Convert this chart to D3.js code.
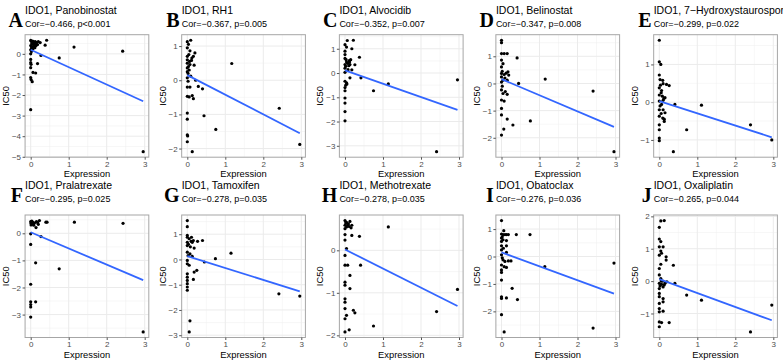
<!DOCTYPE html>
<html>
<head>
<meta charset="utf-8">
<script src="https://cdn.jsdelivr.net/npm/d3@7"></script>
<style>
  body { margin: 0; background: #fff; }
  svg { display: block; font-family: "Liberation Sans", Arial, sans-serif; }
</style>
</head>
<body>
<svg width="783" height="362"></svg>
<script>
const letters = ["A", "B", "C", "D", "E", "F", "G", "H", "I", "J"]
const drugs = ["Panobinostat", "RH1", "Alvocidib", "Belinostat", "7\u2212Hydroxystaurosporine",
               "Pralatrexate", "Tamoxifen", "Methotrexate", "Obatoclax", "Oxaliplatin"]
const cors = ["Cor=\u22120.466, p<0.001", "Cor=\u22120.367, p=0.005", "Cor=\u22120.352, p=0.007",
              "Cor=\u22120.347, p=0.008", "Cor=\u22120.299, p=0.022", "Cor=\u22120.295, p=0.025",
              "Cor=\u22120.278, p=0.035", "Cor=\u22120.278, p=0.035", "Cor=\u22120.276, p=0.036",
              "Cor=\u22120.265, p=0.044"]
const xTicks = [0, 1, 2, 3]
const yTicks = [
  [0, -1, -2, -3, -4, -5], [1, 0, -1, -2], [1, 0, -1, -2, -3], [1, 0, -1, -2], [1, 0, -1],
  [0, -1, -2, -3], [1, 0, -1, -2, -3], [0, -1, -2], [1, 0, -1, -2], [2, 1, 0, -1]
]

// [expression, IC50]
const ptsA = [[0,0.65],[0.02,0.6],[0.05,0.62],[0.08,0.58],[0.12,0.6],[0.15,0.55],[0.2,0.6],[0.25,0.55],
  [0.03,0.5],[0.07,0.48],[0.1,0.45],[0.13,0.5],[0.18,0.45],[0,0.4],[0.04,0.35],[0.09,0.38],[0.14,0.4],
  [0.02,0.28],[0.06,0.25],[0,0.2],[0.11,0.3],[0.42,0.66],[0.38,0.42],[1.14,0.33],[2.42,0.13],[2.96,-4.75],
  [0.75,-0.2],[0.27,-0.08],[0.18,-0.47],[0,-0.27],[0,-0.43],[0.01,-0.51],[0,-0.67],[0,-1.15],[0.01,-1.25],
  [0.04,-1.35],[0,-2.71],[0.06,-0.9],[0.13,-0.93],[0,0.0],[0.02,0.12]]
const ptsB = [[0.09,1.17],[0,1.13],[0.03,1.05],[0,0.95],[0.07,0.86],[0.2,0.8],[0.16,0.7],[0,0.7],[0.04,0.75],
  [0,0.6],[0.11,0.58],[0,0.5],[0.07,0.46],[0.18,0.44],[0.03,0.4],[0,0.36],[0.05,0.3],[0,0.25],[0.09,0.12],
  [0,0.07],[0.02,-0.03],[0.22,0],[0,-0.2],[0.07,-0.2],[0.29,-0.18],[0.4,-0.25],[0,-0.47],[0.05,-0.49],
  [0.13,-0.45],[0.16,-0.54],[0,-0.96],[0,-1.14],[0.44,-1.04],[0.75,-1.44],[1.17,0.49],[2.42,-0.82],
  [2.96,-1.88],[0,-1.6],[0.01,-1.63],[0,-1.8],[0.13,-2.09],[0.02,0.2],[0.12,0.65],[0.06,0.55]]
const ptsC = [[0.06,1.34],[0.22,1.35],[0,1.17],[0.04,1.07],[0.18,1.0],[0,0.9],[0,0.76],[0,0.6],[0.04,0.45],
  [0.11,0.51],[0,0.35],[0.13,0.35],[0.38,0.65],[0.26,0.34],[0,0.2],[0.08,0.14],[0.18,0.13],[0,0.03],
  [0.13,-0.2],[0.42,-0.2],[0,-0.34],[0.04,-0.41],[0,-0.6],[0,-0.73],[0,-1.03],[0,-1.24],[0,-1.59],
  [0,-1.97],[0.75,-0.73],[1.14,-0.45],[2.41,-3.24],[2.96,-0.28],[0.03,0.55],[0.07,0.4],[0.12,0.45],
  [0.15,0.55],[0.02,0.28],[0.05,-0.45],[0.1,0.3],[0.02,-0.5]]
const ptsD = [[0,1.59],[0,1.5],[0,1.1],[0.07,1.1],[0.15,1.1],[0.41,0.94],[0,0.86],[0.04,0.73],[0,0.61],
  [0,0.37],[0.07,0.33],[0.17,0.43],[0.19,0.31],[0,0.24],[0.04,0.12],[0.15,0.12],[0.45,0],[0,-0.24],
  [0.04,-0.37],[0.15,-0.4],[0,-0.61],[0.07,-0.65],[0,-0.92],[0,-1.16],[0.15,-1.31],[0.3,-1.53],
  [0.06,-1.68],[0,-1.9],[1.15,0.16],[0.76,-1.38],[2.41,-0.28],[2.96,-2.51],[0.02,0.45],[0.09,0.2],
  [0,0.05],[0.1,-0.3],[0.02,-0.1],[0.12,0.38]]
const ptsE = [[0,1.64],[0,1.07],[0.04,1.0],[0,0.72],[0.02,0.6],[0.09,0.58],[0.1,0.49],[0.19,0.47],
  [0.26,0.44],[0,0.38],[0.06,0.31],[0,0.19],[0.08,0.16],[0.15,0.12],[0,0.03],[0.06,-0.06],[0,-0.2],
  [0.1,-0.2],[0.15,-0.28],[0,-0.37],[0.09,-0.42],[0.13,-0.51],[0,-0.6],[0,-0.73],[0,-0.95],[0,-1.02],
  [0.41,-0.06],[0.37,-1.31],[0.72,-0.73],[1.11,-0.08],[2.4,-0.6],[2.96,-1.0],[0.03,0.45],[0.05,0.25],
  [0.12,0.1],[0.02,-0.1],[0.05,-0.3],[0.13,-0.45],[0.1,0.05]]
const ptsF = [[0,0.43],[0.01,0.37],[0.06,0.4],[0.15,0.43],[0.23,0.47],[0.01,0.31],[0.14,0.21],[0.4,0.41],
  [0.43,0.41],[1.15,0.41],[2.43,0.37],[0,-0.02],[0,-0.41],[0.27,-0.12],[0.13,-1.09],[0.75,-1.31],
  [0,-1.88],[0,-2.53],[0,-2.63],[0,-2.72],[0.13,-2.53],[0,-3.09],[2.96,-3.64],[0.04,0.35],[0.1,0.38],
  [0.18,0.4],[0.08,0.3],[0.2,0.33],[0.03,0.45]]
const ptsG = [[0,1.54],[0,1.3],[0,0.95],[0,0.88],[0.05,0.82],[0.11,0.88],[0.16,0.75],[0,0.68],[0,0.55],
  [0.13,0.68],[0.27,0.72],[0.4,0.75],[0.18,0.45],[0,0.29],[0.07,0.22],[0.13,0.12],[0,-0.04],[0,-0.17],
  [0.05,-0.23],[0.45,-0.1],[0.74,0.03],[1.15,0.25],[0.25,-0.43],[0.18,-0.5],[0.16,-0.79],[0,-0.57],
  [0,-0.7],[0,-0.83],[0,-0.96],[0,-1.09],[0,-1.22],[0.07,-2.43],[0.05,-2.87],[2.41,-1.36],[2.96,-1.45],
  [0.03,0.6],[0.08,0.5],[0.02,0.15],[0.1,0.72]]
const ptsH = [[0,0.7],[0.04,0.66],[0.09,0.62],[0.13,0.68],[0.18,0.59],[0.04,0.55],[0,0.59],[0,0.51],
  [0.16,0.53],[0.18,0.35],[0.38,0.33],[1.14,0.55],[0,0.37],[0,0.24],[0.04,0.04],[0,-0.12],[0,-0.35],
  [0.07,-0.35],[0.41,-0.35],[0.13,-0.59],[0,-0.75],[0,-0.82],[0.13,-0.9],[0,-1.14],[0,-1.22],[0,-1.37],
  [0,-1.61],[0.04,-1.53],[0.22,-1.41],[0.26,-1.47],[0.11,-1.87],[0,-1.92],[0.75,-1.78],[2.41,-1.44],
  [2.96,-0.92],[0.07,0.6],[0.11,0.56],[0.02,0.64]]
const ptsI = [[0,1.31],[0.06,0.94],[0,0.82],[0.04,0.8],[0.09,0.8],[0.13,0.8],[0.18,0.8],[0.39,0.8],
  [0.75,0.8],[0,0.67],[0.04,0.61],[0,0.55],[0.13,0.58],[0,0.39],[0.13,0.39],[0,0.24],[0.13,0.15],
  [0,0.06],[0.04,-0.12],[0.09,-0.18],[0.18,-0.16],[0.25,-0.16],[0,-0.31],[0,-0.49],[0,-0.58],
  [0.07,-0.37],[0.13,-0.4],[0,-0.86],[0.28,-1.16],[0,-1.47],[0,-1.53],[0.13,-1.51],[0.42,-1.57],
  [0,-2.12],[0.07,-2.75],[1.14,-0.37],[2.41,-2.61],[2.96,-0.24],[0.02,0.72],[0.05,0.3],[0.02,-0.05]]
const ptsJ = [[0.04,1.86],[0.13,1.87],[0,1.66],[0,1.3],[0.04,1.22],[0,1.06],[0.1,1.06],[0.04,0.93],
  [0,0.8],[0.06,0.86],[0.18,0.75],[0.18,0.65],[0.04,0.52],[0,0.39],[0.37,0.49],[0,0.19],[0.04,0.08],
  [0.09,0],[0,-0.07],[0.06,-0.1],[0,-0.23],[0.1,-0.18],[0.15,-0.07],[0.2,-0.02],[0.41,-0.07],[0,-0.38],
  [0,-0.48],[0.1,-0.54],[0.1,-0.64],[0,-0.69],[0,-0.85],[0,-0.95],[0.1,-0.93],[0,-1.26],[0.06,-1.28],
  [0.26,-1.28],[0,-1.41],[0.72,-0.43],[1.11,-0.59],[2.4,-1.57],[2.96,-0.74],[0.02,-0.15],[0.05,0.0],
  [0.13,-0.12]]

// fitted line: IC50 at x = 0 and at x = 2.96
const fitX = [0, 2.96]
const fitStart = [0.2, 0.15, 0.11, 0.16, 0.03, 0.04, 0.13, 0.02, 0.15, 0.06]
const fitEnd = [-2.3, -1.55, -1.52, -1.6, -0.93, -1.73, -1.26, -1.31, -1.35, -1.21]

const allPts = [ptsA, ptsB, ptsC, ptsD, ptsE, ptsF, ptsG, ptsH, ptsI, ptsJ]

// layout
const colZero = [30.7, 187.3, 345, 501.5, 659.3]
const rowTop = [34.7, 215]
const titleY = [14, 189]
const corY = [27, 202]
const plotH = 122.5
const pxPerUnit = 38

const svg = d3.select("svg")
const fmt = d3.format("d")

function expand(ext) {
  const r = ext[1] - ext[0]
  return [ext[0] - r * 0.05, ext[1] + r * 0.05]
}

allPts.forEach((pts, i) => {
  const row = Math.floor(i / 5), col = i % 5
  const xd = expand(d3.extent(pts, d => d[0]))
  const yd = expand(d3.extent(pts, d => d[1]))
  const left = colZero[col] + xd[0] * pxPerUnit
  const w = (xd[1] - xd[0]) * pxPerUnit
  const top = rowTop[row]
  const x = d3.scaleLinear().domain(xd).range([left, left + w])
  const y = d3.scaleLinear().domain(yd).range([top + plotH, top])
  const g = svg.append("g")

  // minor grid
  const xMinor = xTicks.slice(0, -1).map(t => t + 0.5).filter(t => t > xd[0] && t < xd[1])
  const yMinor = d3.range(Math.floor(yd[0]), Math.ceil(yd[1])).map(t => t + 0.5).filter(t => t > yd[0] && t < yd[1])
  g.selectAll(".xmin").data(xMinor).enter().append("line")
    .attr("x1", d => x(d)).attr("x2", d => x(d)).attr("y1", top).attr("y2", top + plotH)
    .attr("stroke", "#eeeeee").attr("stroke-width", 0.5)
  g.selectAll(".ymin").data(yMinor).enter().append("line")
    .attr("y1", d => y(d)).attr("y2", d => y(d)).attr("x1", left).attr("x2", left + w)
    .attr("stroke", "#eeeeee").attr("stroke-width", 0.5)
  // major grid
  g.selectAll(".xmaj").data(xTicks).enter().append("line")
    .attr("x1", d => x(d)).attr("x2", d => x(d)).attr("y1", top).attr("y2", top + plotH)
    .attr("stroke", "#ebebeb").attr("stroke-width", 1)
  g.selectAll(".ymaj").data(yTicks[i]).enter().append("line")
    .attr("y1", d => y(d)).attr("y2", d => y(d)).attr("x1", left).attr("x2", left + w)
    .attr("stroke", "#ebebeb").attr("stroke-width", 1)

  // points
  g.selectAll("circle").data(pts).enter().append("circle")
    .attr("cx", d => x(d[0])).attr("cy", d => y(d[1])).attr("r", 1.6).attr("fill", "#000")

  // fit line
  g.append("line")
    .attr("x1", x(fitX[0])).attr("y1", y(fitStart[i]))
    .attr("x2", x(fitX[1])).attr("y2", y(fitEnd[i]))
    .attr("stroke", "#3366ff").attr("stroke-width", 1.8)

  // border
  g.append("rect").attr("x", left).attr("y", top).attr("width", w).attr("height", plotH)
    .attr("fill", "none").attr("stroke", "#a6a6a6").attr("stroke-width", 1)

  // axes
  const xa = g.append("g").attr("transform", `translate(0,${top + plotH})`)
    .call(d3.axisBottom(x).tickValues(xTicks).tickFormat(fmt).tickSize(2.5).tickPadding(1.5))
  const ya = g.append("g").attr("transform", `translate(${left},0)`)
    .call(d3.axisLeft(y).tickValues(yTicks[i]).tickFormat(fmt).tickSize(2.5).tickPadding(1.5))
  ;[xa, ya].forEach(a => {
    a.select(".domain").remove()
    a.selectAll(".tick line").attr("stroke", "#555")
    a.selectAll(".tick text").attr("fill", "#4d4d4d").style("font-size", "8px")
      .style("font-family", "'Liberation Sans', Arial, sans-serif")
  })

  g.append("text").attr("x", left + w / 2).attr("y", top + plotH + 20)
    .attr("text-anchor", "middle").style("font-size", "9.4px").text("Expression")
  g.append("text").attr("transform", `translate(${left - 16},${top + plotH / 2}) rotate(-90)`)
    .attr("text-anchor", "middle").style("font-size", "9.4px").text("IC50")

  // titles
  g.append("text").attr("x", left).attr("y", titleY[row])
    .style("font-size", "10.5px").text("IDO1, " + drugs[i])
  g.append("text").attr("x", left).attr("y", corY[row])
    .style("font-size", "9px").text(cors[i])
  g.append("text").attr("x", left - 2).attr("y", corY[row]).attr("text-anchor", "end")
    .style("font-family", "'Liberation Serif', 'Times New Roman', serif")
    .style("font-weight", "bold").style("font-size", "20px").text(letters[i])
})
</script>
</body>
</html>
